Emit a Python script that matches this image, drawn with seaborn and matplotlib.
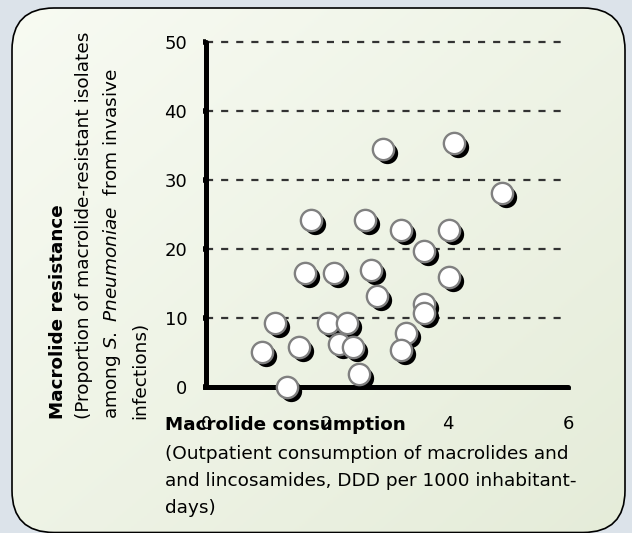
import numpy as np
import seaborn as sns
import matplotlib.pyplot as plt
from matplotlib.patches import FancyBboxPatch
from matplotlib.transforms import offset_copy
from matplotlib.colors import LinearSegmentedColormap

# Data
consumption = [2.93, 4.11, 4.91, 1.74, 2.63, 3.23, 4.02, 3.61, 1.64, 2.12, 2.74, 4.02, 2.83,
               3.61, 3.61, 1.14, 2.02, 2.34, 3.32, 0.93, 1.54, 2.21, 2.44, 3.23, 2.53, 1.34]
resistance = [34.5, 35.3, 28.1, 24.2, 24.2, 22.7, 22.7, 19.7, 16.5, 16.5, 16.9, 15.9, 13.2,
              12.1, 10.7, 9.3, 9.3, 9.3, 7.8, 5.1, 5.8, 6.2, 5.8, 5.3, 1.9, 0.0]
x_ticks = [0, 2, 4, 6]
y_ticks = [0, 10, 20, 30, 40, 50]

W, H = 632, 533
fig = plt.figure(figsize=(W / 100, H / 100), dpi=100, facecolor="#dce3ea")

# rounded panel with soft gradient
box = FancyBboxPatch((0.12, 0.005), 6.13, 5.245,
                     boxstyle="round,pad=0,rounding_size=0.42",
                     transform=fig.dpi_scale_trans, fc="none", ec="black", lw=1.2)
bg = fig.add_axes([0, 0, 1, 1])
bg.axis("off")
gx, gy = np.meshgrid(np.linspace(0, 1, 200), np.linspace(0, 1, 200))
grad = (gx + gy) / 2
cmap = LinearSegmentedColormap.from_list("panel", ["#f8fbf3", "#e5ecd9"])
im = bg.imshow(grad, extent=[0, 1, 0, 1], transform=bg.transAxes, aspect="auto",
               cmap=cmap, origin="upper")
im.set_clip_path(box)
fig.add_artist(box)

# main axes
ax = fig.add_axes([206 / W, 1 - 387 / H, 362 / W, 345 / H])
ax.set_facecolor("none")

shadow = offset_copy(ax.transData, fig=fig, x=4, y=-4, units="dots")
ax.scatter(consumption, resistance, s=235, color="black", linewidths=0,
           transform=shadow, clip_on=False, zorder=3)
sns.scatterplot(x=consumption, y=resistance, ax=ax, s=235, color="white",
                edgecolor="#808080", linewidth=1.7, zorder=4, clip_on=False)

ax.set_xlim(0, 6)
ax.set_ylim(0, 50)
ax.set_xticks(x_ticks)
ax.set_yticks(y_ticks)
for s in ["top", "right"]:
    ax.spines[s].set_visible(False)
for s in ["left", "bottom"]:
    ax.spines[s].set_linewidth(3.6)
    ax.spines[s].set_capstyle("round")
    ax.spines[s].set_zorder(2.5)
ax.tick_params(axis="both", length=2.5, width=4, labelsize=13, colors="black")
ax.tick_params(axis="x", pad=18)
ax.tick_params(axis="y", pad=11)
ax.yaxis.grid(True, color="#333333", linewidth=1.6, linestyle=(0, (3.2, 3.6)))
for gl in ax.yaxis.get_gridlines():
    gl.set_clip_on(False)
ax.set_axisbelow(True)
ax.set_xlabel("")
ax.set_ylabel("")


def fx(px):
    return px / W


def fy(py):
    return 1 - py / H


# y axis titles
fs = 13.3
fig.text(fx(58), fy(419), "Macrolide resistance", rotation=90, ha="center", va="bottom",
         fontsize=13.2, fontweight="bold")
fig.text(fx(84), fy(419), "(Proportion of macrolide-resistant isolates", rotation=90,
         ha="center", va="bottom", fontsize=fs)
fig.text(fx(112), fy(419), r"among $\mathit{S.\ Pneumoniae}$  from invasive", rotation=90,
         ha="center", va="bottom", fontsize=fs)
fig.text(fx(140), fy(419), "infections)", rotation=90, ha="center", va="bottom", fontsize=fs)

# x axis titles
fig.text(fx(165), fy(430), "Macrolide consumption", ha="left", va="baseline",
         fontsize=13.2, fontweight="bold")
fig.text(fx(165), fy(459), "(Outpatient consumption of macrolides and", ha="left",
         va="baseline", fontsize=fs)
fig.text(fx(165), fy(486), "and lincosamides, DDD per 1000 inhabitant-", ha="left",
         va="baseline", fontsize=fs)
fig.text(fx(165), fy(513), "days)", ha="left", va="baseline", fontsize=fs)

fig.savefig("out.png", dpi=100, facecolor=fig.get_facecolor())
